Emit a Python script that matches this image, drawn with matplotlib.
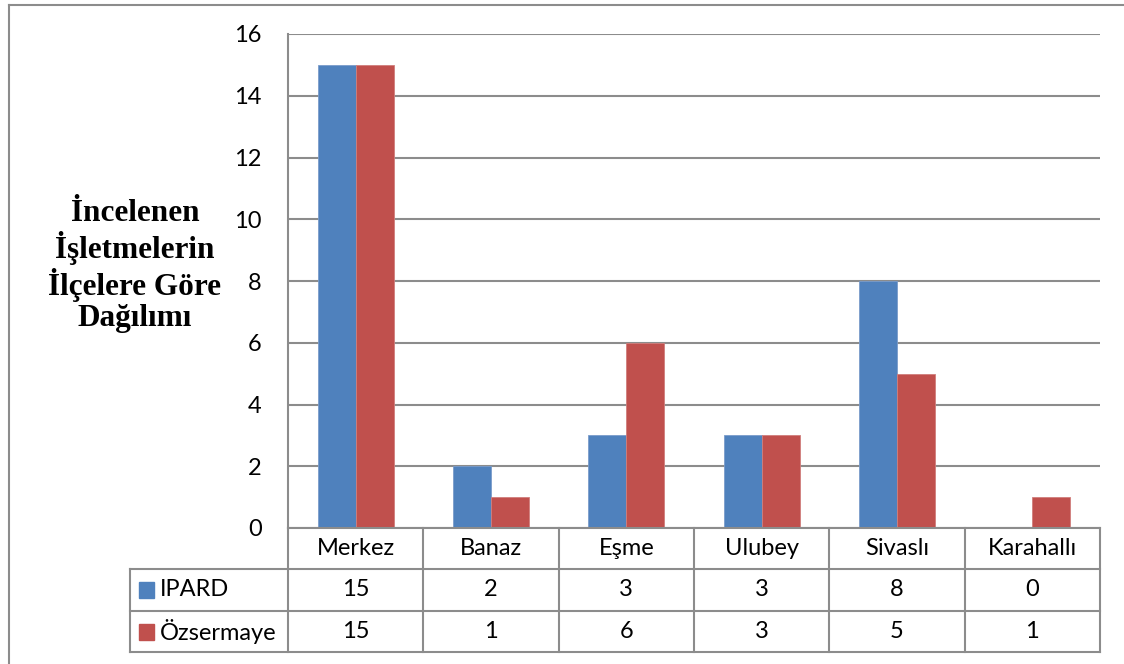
import matplotlib
matplotlib.use("Agg")
import matplotlib.pyplot as plt
from matplotlib.lines import Line2D
from matplotlib.patches import Rectangle
from matplotlib.transforms import blended_transform_factory
import numpy as np

# Veriler
ilceler = ['Merkez', 'Banaz', 'Eşme', 'Ulubey', 'Sivaslı', 'Karahallı']
seriler = ['IPARD', 'Özsermaye']
ipard = [15, 2, 3, 3, 8, 0]
ozsermaye = [15, 1, 6, 3, 5, 1]
y_ticks = [0, 2, 4, 6, 8, 10, 12, 14, 16]
baslik = 'İncelenen\nİşletmelerin\nİlçelere Göre\nDağılımı'

W, H = 1124, 664
MAVI = '#4F81BD'
KIRMIZI = '#C0504D'
GRI = '#8C8C8C'
FONT = 'Lato'
FS = 17


def fx(x):
    return x / W


def fy(y):
    return 1 - y / H


fig = plt.figure(figsize=(W / 100, H / 100), dpi=100)
fig.patch.set_facecolor('white')

# Ana grafik alanı
x0, x1, y_top, y_zero = 288, 1100, 34, 528
ax = fig.add_axes([fx(x0), fy(y_zero), fx(x1 - x0), fy(y_top) - fy(y_zero)])

n = len(ilceler)
x = np.arange(n)
w = 0.28
ax.bar(x - w / 2, ipard, w, color=MAVI, edgecolor='#7A9CCB', linewidth=0.6, zorder=3)
ax.bar(x + w / 2, ozsermaye, w, color=KIRMIZI, edgecolor='#D07E7C', linewidth=0.6, zorder=3)

ax.set_xlim(-0.5, n - 0.5)
ax.set_ylim(0, 16)
ax.set_yticks(y_ticks)
ax.set_yticklabels([str(v) for v in y_ticks], fontsize=FS, family=FONT)
ax.tick_params(axis='y', length=0, pad=19)
ax.set_xticks([])
ax.grid(axis='y', color=GRI, linewidth=1.5, zorder=0)
for s in ['top', 'right', 'bottom']:
    ax.spines[s].set_visible(False)
ax.spines['left'].set_color(GRI)
ax.spines['left'].set_linewidth(1.5)

# Veri tablosu
satir = [528, 569, 611, 652]
tr = blended_transform_factory(ax.transData, fig.transFigure)
sinirlar = np.arange(n + 1) - 0.5

# yatay çizgiler
for i, yy in enumerate(satir):
    xs = fx(x0) if i == 0 else fx(130)
    fig.add_artist(Line2D([xs, fx(x1)], [fy(yy), fy(yy)], color=GRI, lw=1.5))
# dikey çizgiler
for b in sinirlar:
    fig.add_artist(Line2D([b, b], [fy(satir[0]), fy(satir[-1])], color=GRI, lw=1.5,
                          transform=tr, clip_on=False))
fig.add_artist(Line2D([fx(130), fx(130)], [fy(satir[1]), fy(satir[-1])], color=GRI, lw=1.5))

for i, ad in enumerate(ilceler):
    fig.text(i, fy((satir[0] + satir[1]) / 2), ad, transform=tr, ha='center', va='center',
             fontsize=FS, family=FONT)
    fig.text(i, fy((satir[1] + satir[2]) / 2), str(ipard[i]), transform=tr, ha='center',
             va='center', fontsize=FS, family=FONT)
    fig.text(i, fy((satir[2] + satir[3]) / 2), str(ozsermaye[i]), transform=tr, ha='center',
             va='center', fontsize=FS, family=FONT)

# seri etiketleri
for j, (ad, renk) in enumerate(zip(seriler, [MAVI, KIRMIZI])):
    yc = (satir[j + 1] + satir[j + 2]) / 2
    fig.add_artist(Rectangle((fx(139), fy(yc + 8)), fx(15), fy(yc - 8) - fy(yc + 8),
                             transform=fig.transFigure, color=renk))
    fig.text(fx(160), fy(yc), ad, ha='left', va='center', fontsize=FS, family=FONT)

# başlık
fig.text(fx(135), fy(266), baslik, ha='center', va='center', fontsize=22.5,
         family='Liberation Serif', fontweight='bold', linespacing=1.1)

# dış çerçeve
fig.add_artist(Line2D([fx(9), 1], [fy(5), fy(5)], color=GRI, lw=1.5))
fig.add_artist(Line2D([fx(9), fx(9)], [fy(5), 0], color=GRI, lw=1.5))

plt.savefig('out.png', dpi=100)
